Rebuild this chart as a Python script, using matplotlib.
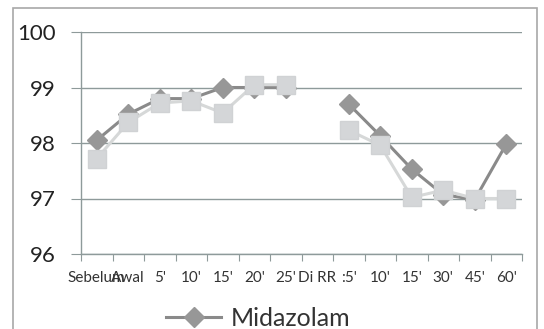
import numpy as np
import matplotlib
matplotlib.use("Agg")
import matplotlib.pyplot as plt
from matplotlib.patches import Rectangle

plt.rcParams['font.family'] = ['Lato', 'DejaVu Sans']

categories = ["Sebelum", "Awal", "5'", "10'", "15'", "20'", "25'", "Di RR", ":5'",
              "10'", "15'", "30'", "45'", "60'"]
midazolam = [98.05, 98.52, 98.8, 98.8, 99.0, 99.0, 99.0, np.nan, 98.7,
             98.13, 97.53, 97.07, 96.98, 97.98]
other = [97.72, 98.37, 98.72, 98.76, 98.54, 99.05, 99.05, np.nan, 98.23,
         97.96, 97.02, 97.15, 97.0, 97.0]
y_ticks = [96, 97, 98, 99, 100]

W, H = 544, 329
fig = plt.figure(figsize=(W / 100, H / 100), dpi=100)
fig.patch.set_facecolor('white')

# chart border
fig.patches.append(Rectangle((13 / W, -0.05), (537 - 13) / W, 1.05 - 8 / H,
                             transform=fig.transFigure, fill=False,
                             edgecolor='#a8a8a8', linewidth=1.2))

ax = fig.add_axes([81 / W, 1 - 254 / H, (522 - 81) / W, (254 - 32) / H])
x = np.arange(len(categories))

grid_c = '#8e9a9a'
for yv in y_ticks:
    ax.axhline(yv, color=grid_c, linewidth=1.0, zorder=1)

line_mid, = ax.plot(x, midazolam, color='#8a8a8a', linewidth=2.2, marker='D',
                    markersize=10.5, markerfacecolor='#979797',
                    markeredgecolor='#979797', zorder=3, label='Midazolam')
ax.plot(x, other, color='#d6d8d8', linewidth=2.2, marker='s', markersize=13.5,
        markerfacecolor='#d4d6d8', markeredgecolor='#d0d2d4', zorder=4)

ax.set_xlim(-0.5, len(categories) - 0.5)
ax.set_ylim(96, 100)
ax.set_yticks(y_ticks)
ax.set_yticklabels([str(v) for v in y_ticks], fontsize=16, color='#222222')
ax.set_xticks(np.arange(len(categories) + 1) - 0.5, minor=False)
ax.set_xticklabels([])
ax.set_xticks(x, minor=True)
ax.set_xticklabels(categories, minor=True, fontsize=11, color='#333333')
ax.tick_params(axis='x', which='major', length=5, color=grid_c, direction='out')
ax.tick_params(axis='x', which='minor', length=0, pad=12)
ax.tick_params(axis='y', length=7, color=grid_c, pad=11)

for s in ['top', 'right']:
    ax.spines[s].set_visible(False)
ax.spines['left'].set_color(grid_c)
ax.spines['bottom'].set_color(grid_c)
ax.spines['left'].set_linewidth(1.0)
ax.spines['bottom'].set_linewidth(1.0)

leg = fig.legend(handles=[line_mid], loc='center left',
                 bbox_to_anchor=(166 / W, 1 - 318 / H), frameon=False,
                 fontsize=18, handlelength=2.2, handletextpad=0.4,
                 borderpad=0, borderaxespad=0)
for t in leg.get_texts():
    t.set_color('#333333')

fig.savefig('out.png', dpi=100, facecolor='white')
